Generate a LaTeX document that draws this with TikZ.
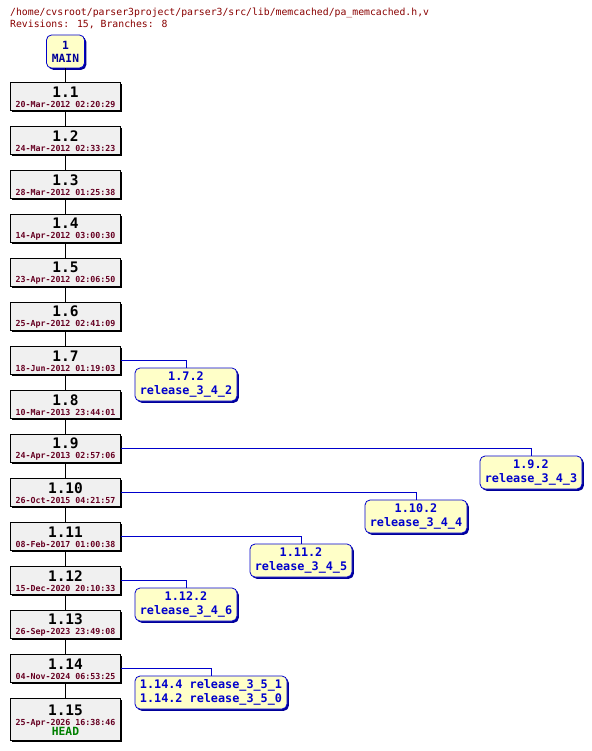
\documentclass[tikz,border=0pt]{standalone}
\usepackage{fontspec}
\newfontfamily\monofam{DejaVu Sans Mono}
\usetikzlibrary{shadows}
\definecolor{hdrc}{HTML}{880000}
\definecolor{datec}{HTML}{660022}
\definecolor{revfill}{HTML}{F0F0F0}
\definecolor{brfill}{HTML}{FFFFC8}
\definecolor{brline}{HTML}{0000CC}
\definecolor{brtext}{HTML}{0000CC}
\definecolor{maintext}{HTML}{000099}
\definecolor{headc}{HTML}{008000}
\newcommand\numf{\monofam\bfseries\fontsize{14.5}{15}\selectfont}
\newcommand\revtxt[2]{{\numf\rule{0pt}{13.5pt}#1}\\[-1pt]{\color{datec}#2}}
\begin{document}
\begin{tikzpicture}[x=1pt,y=-1pt,
  hdrtext/.style={anchor=base west, inner sep=0pt, text=hdrc, font=\monofam\fontsize{9.8}{12}\selectfont},
  revbox/.style={draw=black, line width=0.8pt, fill=revfill, minimum width=110pt, minimum height=28pt,
    inner sep=0pt, align=center, font=\monofam\bfseries\fontsize{8.3}{11}\selectfont,
    drop shadow={shadow xshift=1.8pt, shadow yshift=-1.8pt, opacity=1, fill=black}},
  brbox/.style={draw=brline, line width=0.8pt, fill=brfill, rounded corners=5pt, minimum height=33pt,
    inner sep=0pt, align=center, text=brtext, font=\monofam\bfseries\fontsize{11.8}{14}\selectfont,
    drop shadow={shadow xshift=1.8pt, shadow yshift=-1.8pt, opacity=1, fill=maintext}},
  trunk/.style={draw=black, line width=0.8pt},
  brconn/.style={draw=brline, line width=0.8pt}]
\useasboundingbox (0,0) rectangle (591,751);
\node[hdrtext] (h1) at (10,16) {/home/cvsroot/parser3project/parser3/src/lib/memcached/pa\_memcached.h,v};
\node[hdrtext] (h2) at (10,28) {Revisions: 15, Branches: 8};
\node[brbox, minimum width=38pt, text=maintext, font=\monofam\bfseries\fontsize{11.3}{13}\selectfont] (main) at (65.5,51.5) {1\\MAIN};
\node[revbox] (r1) at (65.5,96) {\revtxt{1.1}{20-Mar-2012 02:20:29}};
\node[revbox] (r2) at (65.5,140) {\revtxt{1.2}{24-Mar-2012 02:33:23}};
\node[revbox] (r3) at (65.5,184) {\revtxt{1.3}{28-Mar-2012 01:25:38}};
\node[revbox] (r4) at (65.5,228) {\revtxt{1.4}{14-Apr-2012 03:00:30}};
\node[revbox] (r5) at (65.5,272) {\revtxt{1.5}{23-Apr-2012 02:06:50}};
\node[revbox] (r6) at (65.5,316) {\revtxt{1.6}{25-Apr-2012 02:41:09}};
\node[revbox] (r7) at (65.5,360) {\revtxt{1.7}{18-Jun-2012 01:19:03}};
\node[revbox] (r8) at (65.5,404) {\revtxt{1.8}{10-Mar-2013 23:44:01}};
\node[revbox] (r9) at (65.5,448) {\revtxt{1.9}{24-Apr-2013 02:57:06}};
\node[revbox] (r10) at (65.5,492) {\revtxt{1.10}{26-Oct-2015 04:21:57}};
\node[revbox] (r11) at (65.5,536) {\revtxt{1.11}{08-Feb-2017 01:00:38}};
\node[revbox] (r12) at (65.5,580) {\revtxt{1.12}{15-Dec-2020 20:10:33}};
\node[revbox] (r13) at (65.5,624) {\revtxt{1.13}{26-Sep-2023 23:49:08}};
\node[revbox] (r14) at (65.5,668) {\revtxt{1.14}{04-Nov-2024 06:53:25}};
\node[revbox, minimum height=42pt] (r15) at (65.5,719) {\revtxt{1.15}{25-Apr-2026 16:38:46}\\[-1pt]{\fontsize{11.3}{12}\selectfont\color{headc}HEAD}};
\foreach \a/\b in {main/r1,r1/r2,r2/r3,r3/r4,r4/r5,r5/r6,r6/r7,r7/r8,r8/r9,r9/r10,r10/r11,r11/r12,r12/r13,r13/r14,r14/r15}
  \draw[trunk] (\a.south) -- (\b.north);
\node[brbox, minimum width=102pt] (b7) at (186,384.5) {1.7.2\\release\_3\_4\_2};
\node[brbox, minimum width=102pt] (b9) at (531,472.5) {1.9.2\\release\_3\_4\_3};
\node[brbox, minimum width=102pt] (b10) at (416,516.5) {1.10.2\\release\_3\_4\_4};
\node[brbox, minimum width=102pt] (b11) at (301,560.5) {1.11.2\\release\_3\_4\_5};
\node[brbox, minimum width=102pt] (b12) at (186,604.5) {1.12.2\\release\_3\_4\_6};
\node[brbox, minimum width=152pt] (b14) at (211,692.5) {1.14.4 release\_3\_5\_1\\1.14.2 release\_3\_5\_0};
\draw[brconn] (r7.east) -| (b7.north);
\draw[brconn] (r9.east) -| (b9.north);
\draw[brconn] (r10.east) -| (b10.north);
\draw[brconn] (r11.east) -| (b11.north);
\draw[brconn] (r12.east) -| (b12.north);
\draw[brconn] (r14.east) -| (b14.north);
\end{tikzpicture}
\end{document}
